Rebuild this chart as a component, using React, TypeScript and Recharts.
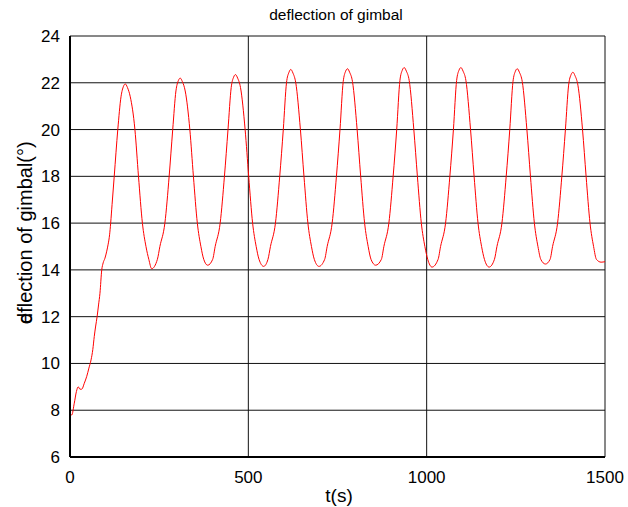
import { LineChart, Line, XAxis, YAxis, CartesianGrid } from 'recharts';

// time (s)
const tSec = [
  0, 1, 5, 12, 18, 23, 28, 33, 40, 47, 53, 59, 64, 68, 72, 76, 80, 84, 89, 93, 98, 103, 107, 111, 114, 118,
  124, 134, 143, 150, 155, 161, 169, 182, 192, 203, 213, 221, 229,
  245, 252, 266, 278, 288, 297, 304, 309, 315, 323, 336, 346, 357, 367, 375, 386,
  400, 407, 421, 433, 443, 452, 459, 464, 470, 478, 491, 501, 512, 522, 530, 543,
  555, 562, 576, 588, 598, 607, 614, 619, 625, 633, 646, 656, 667, 677, 685, 698,
  714, 721, 735, 747, 757, 766, 773, 778, 784, 792, 805, 815, 826, 836, 844, 857,
  873, 880, 894, 906, 916, 925, 932, 937, 943, 951, 964, 974, 985, 995, 1003, 1015,
  1032, 1039, 1053, 1065, 1075, 1084, 1091, 1096, 1102, 1110, 1123, 1133, 1144, 1154, 1162, 1175,
  1190, 1197, 1211, 1223, 1233, 1242, 1249, 1254, 1260, 1268, 1281, 1291, 1302, 1312, 1320, 1333,
  1346, 1353, 1367, 1379, 1389, 1398, 1405, 1410, 1416, 1424, 1437, 1447, 1458, 1468, 1476, 1489, 1500,
];

// gimbal deflection (deg)
const gimbalDeg = [
  11.7, 7.8, 7.8, 8.3, 8.8, 9.0, 8.9, 8.9, 9.15, 9.45, 9.8, 10.15, 10.6, 11.15, 11.6, 12.0, 12.5, 13.0, 14.0, 14.3, 14.5, 14.8, 15.1, 15.5, 16.0, 16.8,
  18.0, 20.0, 21.4, 21.85, 21.95, 21.8, 21.4, 20.0, 18.0, 16.0, 15.0, 14.45, 14.05,
  14.45, 15.0, 16.0, 18.0, 20.0, 21.65, 22.1, 22.2, 22.05, 21.65, 20.0, 18.0, 16.0, 15.0, 14.45, 14.2,
  14.45, 15.0, 16.0, 18.0, 20.0, 21.8, 22.25, 22.35, 22.2, 21.8, 20.0, 18.0, 16.0, 15.0, 14.45, 14.15,
  14.45, 15.0, 16.0, 18.0, 20.0, 22.0, 22.45, 22.57, 22.42, 22.0, 20.0, 18.0, 16.0, 15.0, 14.45, 14.15,
  14.45, 15.0, 16.0, 18.0, 20.0, 22.05, 22.5, 22.6, 22.45, 22.05, 20.0, 18.0, 16.0, 15.0, 14.45, 14.2,
  14.45, 15.0, 16.0, 18.0, 20.0, 22.1, 22.55, 22.65, 22.5, 22.1, 20.0, 18.0, 16.0, 15.0, 14.45, 14.12,
  14.45, 15.0, 16.0, 18.0, 20.0, 22.1, 22.55, 22.65, 22.5, 22.1, 20.0, 18.0, 16.0, 15.0, 14.45, 14.12,
  14.45, 15.0, 16.0, 18.0, 20.0, 22.05, 22.5, 22.6, 22.45, 22.05, 20.0, 18.0, 16.0, 15.0, 14.45, 14.25,
  14.45, 15.0, 16.0, 18.0, 20.0, 21.9, 22.35, 22.45, 22.3, 21.9, 20.0, 18.0, 16.0, 15.0, 14.45, 14.33, 14.35,
];

const xTicks = [0, 500, 1000, 1500];
const yTicks = [6, 8, 10, 12, 14, 16, 18, 20, 22, 24];

const data = tSec.map((t, i) => ({ t, deg: gimbalDeg[i] }));

const font = '"Liberation Sans", Arial, sans-serif';

export default function App() {
  return (
    <div style={{ position: 'absolute', left: 0, top: 0, width: 628, height: 507, background: '#fff', fontFamily: font }}>
      <div style={{ position: 'absolute', left: 0, width: 672, top: 6, textAlign: 'center', fontSize: 15.5, color: '#000' }}>
        deflection of gimbal
      </div>
      <LineChart width={628} height={507} data={data} margin={{ top: 36, right: 23, bottom: 20, left: 30 }}>
        <CartesianGrid stroke="#111" strokeWidth={1} />
        <XAxis
          dataKey="t"
          type="number"
          domain={[0, 1500]}
          ticks={xTicks}
          height={30}
          tickLine={false}
          tickSize={0}
          tickMargin={14}
          axisLine={{ stroke: '#000', strokeWidth: 2 }}
          tick={{ fill: '#000', fontSize: 17, fontFamily: font }}
          label={{
            content: () => (
              <text x={339} y={502} textAnchor="middle" fontSize={19} fontFamily={font} fill="#000">
                t(s)
              </text>
            ),
          }}
        />
        <YAxis
          type="number"
          domain={[6, 24]}
          ticks={yTicks}
          width={40}
          tickLine={false}
          tickSize={0}
          tickMargin={10}
          axisLine={{ stroke: '#000', strokeWidth: 2 }}
          tick={{ fill: '#000', fontSize: 17, fontFamily: font }}
          label={{
            content: () => (
              <text x={32} y={324} transform="rotate(-90, 32, 324)" fontSize={20} fontFamily={font} fill="#000">
                <tspan>d</tspan>
                <tspan dx={-11}>eflection of gimbal(°)</tspan>
              </text>
            ),
          }}
        />
        <Line type="monotone" dataKey="deg" stroke="#ff0000" strokeWidth={1} dot={false} isAnimationActive={false} />
      </LineChart>
    </div>
  );
}
